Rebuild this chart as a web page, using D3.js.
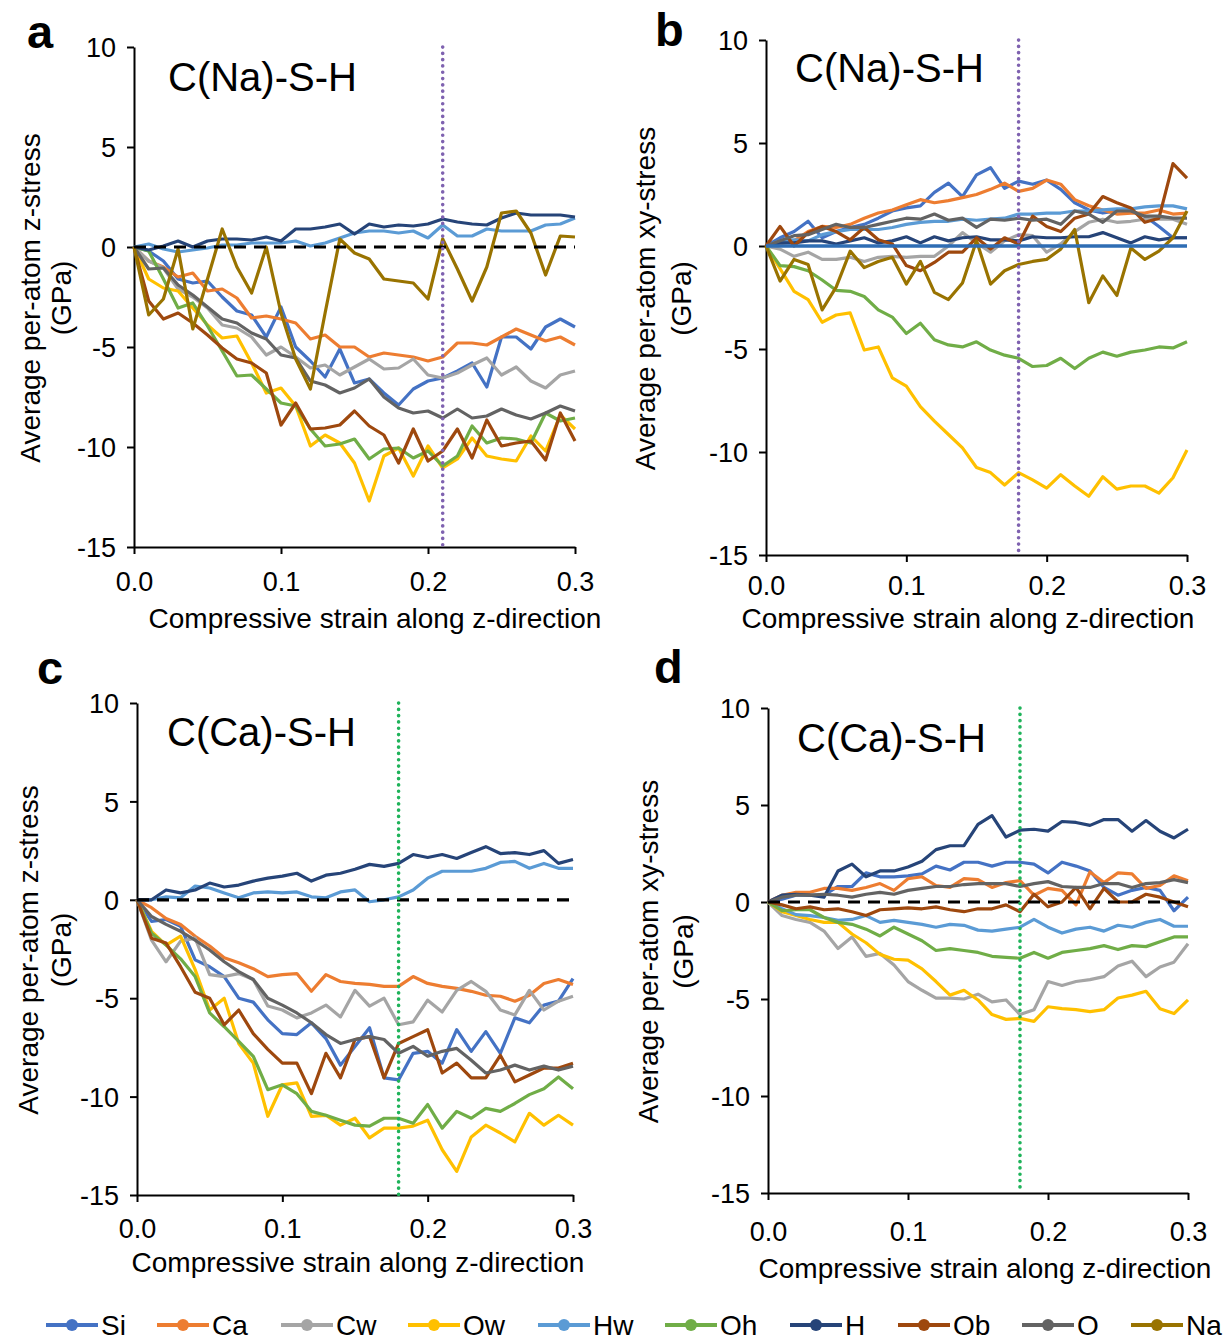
<!DOCTYPE html>
<html lang="en">
<head>
<meta charset="UTF-8">
<title>Per-atom stress vs strain</title>
<script src="https://cdn.jsdelivr.net/npm/d3@7"></script>
<style>
  body { margin: 0; background: #fff; }
  svg text { font-family: "Liberation Sans", Arial, sans-serif; fill: #000; }
</style>
</head>
<body>
<script>
// strain steps (x categories)
var strain = [0, 0.01, 0.02, 0.03, 0.04, 0.05, 0.06, 0.07, 0.08, 0.09, 0.10,
              0.11, 0.12, 0.13, 0.14, 0.15, 0.16, 0.17, 0.18, 0.19, 0.20,
              0.21, 0.22, 0.23, 0.24, 0.25, 0.26, 0.27, 0.28, 0.29, 0.30];
var species = ["Si", "Ca", "Cw", "Ow", "Hw", "Oh", "H", "Ob", "O", "Na"];
var colors  = ["#4472C4", "#ED7D31", "#A5A5A5", "#FFC000", "#5B9BD5",
               "#70AD47", "#264478", "#9E480E", "#636363", "#997300"];
var yTicks = [10, 5, 0, -5, -10, -15];
var xTicks = [0, 0.1, 0.2, 0.3];

// a: C(Na)-S-H, z-stress
var aSi = [0,-0.2,-0.7,-1.6,-1.8,-1.7,-2.5,-3.2,-3.4,-4.5,-3.0,-5.0,-5.7,-6.5,-5.1,-6.8,-6.6,-7.3,-7.9,-7.1,-6.7,-6.55,-6.2,-5.8,-7.0,-4.5,-4.5,-5.1,-4.0,-3.6,-4.0];
var aCa = [0,-0.7,-1.0,-1.5,-1.3,-2.2,-2.1,-2.55,-3.55,-3.45,-3.6,-3.8,-4.6,-4.4,-5.0,-5.0,-5.5,-5.3,-5.4,-5.5,-5.7,-5.5,-4.8,-4.8,-4.9,-4.5,-4.1,-4.4,-4.7,-4.5,-4.9];
var aCw = [0,-0.7,-1.05,-2.1,-2.5,-3.05,-3.9,-4.05,-4.5,-5.4,-5.0,-5.5,-6.05,-5.9,-6.4,-6.0,-5.6,-6.1,-6.05,-5.6,-6.4,-6.55,-6.3,-5.9,-5.55,-6.4,-6.0,-6.7,-7.05,-6.4,-6.2];
var aOw = [0,-1.6,-2.05,-2.2,-3.05,-3.9,-4.55,-4.45,-5.8,-7.3,-7.05,-7.95,-9.95,-9.4,-9.8,-10.8,-12.7,-10.45,-10.05,-11.45,-9.95,-11.05,-10.6,-9.55,-10.45,-10.6,-10.7,-9.45,-10.2,-8.4,-9.1];
var aHw = [0,0.15,-0.1,-0.25,-0.15,-0.05,0.1,0.1,0.2,0.2,0.2,0.3,0.05,0.2,0.45,0.7,0.8,0.8,0.7,0.8,0.45,1.1,0.55,0.55,0.9,0.8,0.8,0.8,1.1,1.15,1.45];
var aOh = [0,-0.2,-1.6,-3.05,-2.8,-3.95,-5.2,-6.45,-6.4,-7.1,-7.8,-7.95,-9.1,-9.95,-9.85,-9.6,-10.6,-10.1,-10.05,-10.55,-10.2,-10.95,-10.45,-8.95,-9.8,-9.55,-9.6,-9.8,-8.3,-8.7,-8.55];
var aH  = [0,-0.15,0.05,0.3,0,0.3,0.4,0.4,0.35,0.5,0.3,0.9,0.9,1.0,1.15,0.65,1.15,1.0,1.1,1.05,1.15,1.4,1.25,1.15,1.1,1.45,1.7,1.6,1.6,1.6,1.5];
var aOb = [0,-2.7,-3.6,-3.3,-3.8,-4.4,-5.05,-5.6,-5.8,-6.3,-8.9,-7.8,-9.1,-9.05,-8.9,-8.2,-8.95,-9.4,-10.8,-9.1,-10.7,-10.2,-9.1,-10.55,-8.65,-9.95,-9.8,-9.7,-10.65,-8.3,-9.7];
var aO  = [0,-1.1,-1.05,-1.9,-2.4,-3.0,-3.6,-3.8,-4.3,-4.6,-5.4,-5.55,-6.7,-6.9,-7.3,-7.05,-6.6,-7.5,-8.05,-8.3,-8.2,-8.55,-8.1,-8.55,-8.45,-8.1,-8.4,-8.6,-8.3,-7.95,-8.2];
var aNa = [0,-3.4,-2.6,-0.1,-4.1,-1.6,0.9,-1.0,-2.3,0,-3.3,-5.6,-7.1,-3.3,0.4,-0.3,-0.6,-1.6,-1.7,-1.8,-2.6,0.4,-1.1,-2.7,-1.0,1.7,1.8,0.7,-1.4,0.55,0.5];

// b: C(Na)-S-H, xy-stress
var bSi = [0,0.4,0.7,1.2,0.4,0.7,0.9,1.05,1.35,1.7,1.85,1.95,2.6,3.05,2.4,3.45,3.8,2.8,3.15,3.0,3.2,2.75,2.1,1.75,1.6,1.7,1.7,1.45,0.95,0.4,0.4];
var bCa = [0,0.1,0.25,0.7,0.95,0.9,1.05,1.35,1.6,1.75,2.0,2.25,2.1,2.2,2.35,2.5,2.75,3.05,2.65,2.8,3.2,3.0,2.25,1.95,1.75,1.55,1.6,1.6,1.75,1.55,1.6];
var bCw = [0,-0.15,-0.5,-0.3,-0.65,-0.65,-0.55,-0.75,-0.55,-0.5,-0.55,-0.5,-0.5,0,0.65,0.15,-0.3,0.25,0.55,0.5,-0.3,0.1,0.7,1.15,1.3,1.15,1.2,1.3,1.3,1.3,1.05];
var bOw = [0,-1.1,-2.2,-2.6,-3.7,-3.35,-3.25,-5.05,-4.9,-6.4,-6.8,-7.8,-8.5,-9.15,-9.8,-10.75,-11.0,-11.6,-11.0,-11.35,-11.75,-11.1,-11.65,-12.15,-11.2,-11.8,-11.65,-11.65,-12.0,-11.25,-9.9];
var bHw = [0,0.25,0.3,0.25,0.55,0.7,0.8,0.8,0.8,0.9,1.05,1.15,1.2,1.2,1.3,1.25,1.3,1.35,1.55,1.55,1.6,1.6,1.7,1.7,1.75,1.8,1.8,1.9,1.95,1.95,1.8];
var bOh = [0,-0.95,-1.0,-1.2,-1.65,-2.15,-2.2,-2.45,-3.1,-3.45,-4.25,-3.75,-4.55,-4.8,-4.9,-4.65,-5.05,-5.3,-5.45,-5.85,-5.8,-5.45,-5.95,-5.45,-5.15,-5.35,-5.15,-5.05,-4.9,-4.95,-4.65];
var bH  = [0,0.15,0.15,0.25,0.25,0.1,0.25,0.4,0.15,0.25,0.45,0.15,0.45,0.25,0.4,0.45,0.3,0.3,0.25,0.45,0.4,0.4,0.45,0.45,0.65,0.4,0.15,0.45,0.3,0.4,0.4];
var bOb = [0,0.95,0,0.65,0.95,0.7,0.3,0.9,0.3,0.1,-0.95,-1.2,-0.8,-0.3,-0.3,0.4,-0.15,0.4,0.1,1.45,0.95,0.7,1.35,1.55,2.4,2.1,1.85,1.15,1.35,4.0,3.3];
var bO  = [0,0.25,0.5,0.55,0.8,1.05,0.9,0.9,1.05,1.2,1.35,1.3,1.55,1.25,1.35,0.9,1.3,1.25,1.35,1.25,1.3,1.05,1.7,1.55,1.15,1.7,1.7,1.45,1.45,1.35,1.35];
var bNa = [0,-1.7,-0.65,-0.9,-3.1,-2.0,-0.25,-1.05,-0.75,-0.55,-1.85,-0.75,-2.25,-2.6,-1.8,0.25,-1.85,-1.2,-0.9,-0.75,-0.65,-0.15,0.8,-2.75,-1.45,-2.4,-0.1,-0.65,-0.25,0.4,1.7];

// c: C(Ca)-S-H, z-stress
var cSi = [0,-1.1,-1.0,-1.35,-3.05,-3.4,-3.9,-5.0,-5.2,-6.1,-6.8,-6.85,-6.25,-7.05,-8.4,-7.45,-6.5,-9.05,-9.15,-7.8,-7.7,-8.3,-6.6,-7.7,-6.7,-7.8,-6.0,-6.25,-5.35,-5.15,-4.0];
var cCa = [0,-0.4,-0.95,-1.25,-1.85,-2.35,-2.95,-3.2,-3.5,-3.9,-3.8,-3.75,-4.65,-3.8,-4.15,-4.25,-4.3,-4.4,-4.4,-3.9,-4.25,-4.4,-4.5,-4.65,-4.85,-4.9,-5.15,-4.85,-4.25,-4.05,-4.3];
var cCw = [0,-2.05,-3.15,-2.1,-1.95,-3.8,-3.9,-3.75,-4.05,-5.4,-5.6,-6.0,-5.75,-5.35,-5.95,-4.6,-5.4,-5.0,-6.35,-6.2,-5.1,-5.7,-4.6,-4.15,-4.65,-5.6,-5.85,-4.6,-5.6,-5.15,-4.9];
var cOw = [0,-1.6,-2.3,-1.85,-3.55,-5.6,-5.0,-7.3,-8.3,-11.0,-9.4,-9.3,-11.0,-10.95,-11.45,-11.1,-12.1,-11.6,-11.6,-11.5,-11.2,-12.7,-13.8,-12.05,-11.45,-11.85,-12.3,-10.85,-11.45,-10.95,-11.45];
var cHw = [0,0,0.15,0.1,0.7,0.6,0.35,0.1,0.35,0.4,0.35,0.4,0.15,0.1,0.4,0.5,-0.1,0,0.15,0.5,1.1,1.45,1.45,1.45,1.6,1.9,1.95,1.6,1.85,1.6,1.6];
var cOh = [0,-1.7,-2.3,-3.0,-3.9,-5.75,-6.45,-7.2,-7.95,-9.65,-9.4,-9.85,-10.75,-10.95,-11.2,-11.45,-11.5,-11.1,-11.1,-11.35,-10.4,-11.6,-10.75,-11.1,-10.6,-10.75,-10.35,-9.9,-9.6,-9.0,-9.6];
var cH  = [0,0,0.5,0.35,0.5,0.85,0.65,0.75,0.95,1.1,1.2,1.35,0.95,1.25,1.35,1.55,1.8,1.7,1.85,2.3,2.15,2.3,2.1,2.4,2.7,2.35,2.4,2.3,2.5,1.85,2.05];
var cOb = [0,-1.95,-2.2,-3.4,-4.7,-5.0,-6.35,-5.6,-6.8,-7.6,-8.3,-8.3,-9.85,-7.8,-9.05,-7.1,-6.95,-9.05,-7.3,-6.95,-6.6,-8.8,-8.3,-9.05,-9.05,-7.9,-9.25,-8.9,-8.55,-8.55,-8.3];
var cO  = [0,-0.85,-1.25,-1.6,-2.05,-2.55,-3.15,-3.65,-4.05,-5.0,-5.35,-5.75,-6.25,-6.85,-7.3,-7.1,-6.95,-7.1,-7.8,-7.45,-7.95,-7.7,-7.55,-8.15,-8.8,-8.65,-8.4,-8.65,-8.45,-8.65,-8.45];

// d: C(Ca)-S-H, xy-stress
var dSi = [0,0.15,0.35,0.35,0.35,0.8,0.8,1.5,1.3,1.3,1.35,1.45,1.85,1.65,2.05,2.05,1.85,2.05,2.05,1.95,1.5,2.05,1.85,1.6,0.75,0.35,0.6,0.75,0.6,-0.45,0.25];
var dCa = [0,0.35,0.5,0.5,0.7,0.7,0.6,0.75,0.95,0.6,1.2,1.3,0.85,0.75,1.2,1.15,0.75,1.0,1.1,0.35,0.7,0.6,-0.15,1.55,1.0,1.5,1.45,0.7,0.85,1.35,1.1];
var dCw = [0,-0.7,-0.9,-1.05,-1.5,-2.4,-1.8,-2.8,-2.65,-3.25,-4.1,-4.55,-4.95,-4.95,-5.0,-4.75,-5.15,-5.05,-5.8,-5.55,-4.1,-4.3,-4.1,-4.0,-3.85,-3.3,-3.05,-3.85,-3.35,-3.1,-2.15];
var dOw = [0,-0.5,-0.7,-0.9,-1.05,-1.05,-1.65,-2.1,-2.7,-2.95,-3.0,-3.45,-4.1,-4.8,-4.55,-5.05,-5.8,-6.05,-6.0,-6.15,-5.4,-5.5,-5.55,-5.65,-5.55,-4.95,-4.8,-4.6,-5.5,-5.75,-5.05];
var dHw = [0,-0.35,-0.65,-0.7,-0.8,-0.95,-0.9,-0.7,-1.05,-0.95,-1.05,-1.15,-1.3,-1.15,-1.2,-1.45,-1.5,-1.4,-1.3,-0.9,-1.3,-1.6,-1.4,-1.3,-1.5,-1.2,-1.3,-1.05,-0.9,-1.25,-1.25];
var dOh = [0,-0.45,-0.4,-0.4,-0.8,-1.05,-1.15,-1.4,-1.75,-1.3,-1.65,-2.0,-2.5,-2.4,-2.5,-2.6,-2.8,-2.85,-2.9,-2.6,-2.9,-2.6,-2.5,-2.4,-2.25,-2.45,-2.25,-2.3,-2.05,-1.8,-1.8];
var dH  = [0,0.35,0.4,0.35,0.25,1.6,1.95,1.3,1.6,1.6,1.8,2.1,2.7,2.9,2.9,4.0,4.45,3.35,3.7,3.75,3.65,4.15,4.1,3.95,4.25,4.25,3.65,4.2,3.65,3.3,3.75];
var dOb = [0,-0.15,-0.35,-0.25,-0.4,-0.35,-0.5,-0.7,-0.4,-0.35,-0.3,-0.35,-0.25,-0.4,-0.5,-0.35,-0.35,-0.15,-0.5,0.4,-0.25,0,0.75,-0.35,0.7,0,0,0.4,0.25,0,-0.25];
var dO  = [0,0.25,0.35,0.35,0.4,0.35,0.25,0.4,0.5,0.4,0.6,0.7,0.8,0.8,0.9,0.95,0.95,0.95,0.8,0.95,1.05,0.8,0.75,0.75,0.95,0.95,0.75,0.95,1.0,1.15,1.0];

var W = 1231, H = 1340;
var svg = d3.select("body").append("svg").attr("width", W).attr("height", H);

var panels = [
  { letter: "a", title: "C(Na)-S-H", ylab: "Average per-atom z-stress",
    series: [aSi, aCa, aCw, aOw, aHw, aOh, aH, aOb, aO, aNa],
    l: 134, r: 575, t: 47, b: 547, mark: 0.21, markColor: "#7F62B0", zero: "dash",
    letterX: 27, letterY: 48, titleX: 168, titleY: 91, ylabX: 30, gpaX: 61, xlabX: 375, xlabY: 628, xtickDy: 44 },
  { letter: "b", title: "C(Na)-S-H", ylab: "Average per-atom xy-stress",
    series: [bSi, bCa, bCw, bOw, bHw, bOh, bH, bOb, bO, bNa],
    l: 766, r: 1187, t: 40, b: 555, mark: 0.18, markColor: "#7F62B0", zero: "solid",
    letterX: 655, letterY: 46, titleX: 795, titleY: 82, ylabX: 645, gpaX: 681, xlabX: 968, xlabY: 628, xtickDy: 40 },
  { letter: "c", title: "C(Ca)-S-H", ylab: "Average per-atom z-stress",
    series: [cSi, cCa, cCw, cOw, cHw, cOh, cH, cOb, cO],
    l: 137, r: 573, t: 703, b: 1195, mark: 0.18, markColor: "#1FB35A", zero: "dash",
    letterX: 37, letterY: 684, titleX: 167, titleY: 746, ylabX: 28, gpaX: 61, xlabX: 358, xlabY: 1272, xtickDy: 43 },
  { letter: "d", title: "C(Ca)-S-H", ylab: "Average per-atom xy-stress",
    series: [dSi, dCa, dCw, dOw, dHw, dOh, dH, dOb, dO],
    l: 768, r: 1188, t: 708, b: 1193, mark: 0.18, markColor: "#1FB35A", zero: "dash",
    letterX: 654, letterY: 683, titleX: 797, titleY: 752, ylabX: 648, gpaX: 683, xlabX: 985, xlabY: 1278, xtickDy: 48 }
];

panels.forEach(drawPanel);

function drawPanel(p) {
  var x = d3.scaleLinear().domain([0, 0.3]).range([p.l, p.r]);
  var y = d3.scaleLinear().domain([-15, 10]).range([p.b, p.t]);
  var g = svg.append("g");

  // axes (hyphen minus like the original, not U+2212)
  var ya = g.append("g").attr("transform", "translate(" + p.l + ",0)")
    .call(d3.axisLeft(y).tickValues(yTicks).tickSize(7).tickSizeOuter(0).tickPadding(11)
      .tickFormat(function(d) { return String(d); }));
  var xa = g.append("g").attr("transform", "translate(0," + p.b + ")")
    .call(d3.axisBottom(x).tickValues(xTicks).tickSize(7).tickSizeOuter(0).tickPadding(0)
      .tickFormat(d3.format(".1f")));
  [ya, xa].forEach(function(a) {
    a.select(".domain").attr("stroke", "#000").attr("stroke-width", 2);
    a.selectAll(".tick line").attr("stroke", "#000").attr("stroke-width", 2);
    a.selectAll(".tick text").attr("font-size", 27).attr("font-family", null);
  });
  ya.selectAll(".tick text").attr("dy", "0.36em");
  xa.selectAll(".tick text").attr("y", p.xtickDy).attr("dy", 0);

  // series lines
  var line = d3.line().x(function(d, i) { return x(strain[i]); }).y(function(d) { return y(d); });
  p.series.forEach(function(vals, k) {
    g.append("path").datum(vals).attr("d", line)
      .attr("fill", "none").attr("stroke", colors[k]).attr("stroke-width", 3.2)
      .attr("stroke-linejoin", "round");
  });

  // zero line
  var zl = g.append("line").attr("x1", x(0)).attr("x2", x(0.3)).attr("y1", y(0)).attr("y2", y(0));
  if (p.zero === "dash") {
    zl.attr("stroke", "#000").attr("stroke-width", 3.2).attr("stroke-dasharray", "12,8");
  } else {
    zl.attr("stroke", "#2E6DB4").attr("stroke-width", 3.4);
  }

  // vertical marker
  g.append("line").attr("x1", x(p.mark)).attr("x2", x(p.mark)).attr("y1", y(10)).attr("y2", y(-15))
    .attr("stroke", p.markColor).attr("stroke-width", 3.6)
    .attr("stroke-dasharray", "0.1,6.2").attr("stroke-linecap", "round");

  // texts
  g.append("text").attr("x", p.letterX).attr("y", p.letterY)
    .attr("font-size", 47).attr("font-weight", "bold").text(p.letter);
  g.append("text").attr("x", p.titleX).attr("y", p.titleY)
    .attr("font-size", 40).text(p.title);
  var cy = (p.t + p.b) / 2 + 1;
  g.append("text").attr("transform", "translate(" + p.ylabX + "," + cy + ") rotate(-90)")
    .attr("text-anchor", "middle").attr("dy", "0.35em").attr("font-size", 28).text(p.ylab);
  g.append("text").attr("transform", "translate(" + p.gpaX + "," + cy + ") rotate(-90)")
    .attr("text-anchor", "middle").attr("dy", "0.35em").attr("font-size", 28).text("(GPa)");
  g.append("text").attr("x", p.xlabX).attr("y", p.xlabY)
    .attr("text-anchor", "middle").attr("font-size", 28).text("Compressive strain along z-direction");
}

// legend
var legX = [46, 157, 281, 408, 538, 665, 790, 898, 1022, 1131];
var legY = 1325;
var leg = svg.append("g");
species.forEach(function(s, k) {
  var gx = legX[k];
  leg.append("line").attr("x1", gx).attr("x2", gx + 52).attr("y1", legY).attr("y2", legY)
    .attr("stroke", colors[k]).attr("stroke-width", 4);
  leg.append("circle").attr("cx", gx + 26).attr("cy", legY).attr("r", 6).attr("fill", colors[k]);
  leg.append("text").attr("x", gx + 55).attr("y", legY).attr("dy", "0.36em")
    .attr("font-size", 28).text(s);
});
</script>
</body>
</html>
